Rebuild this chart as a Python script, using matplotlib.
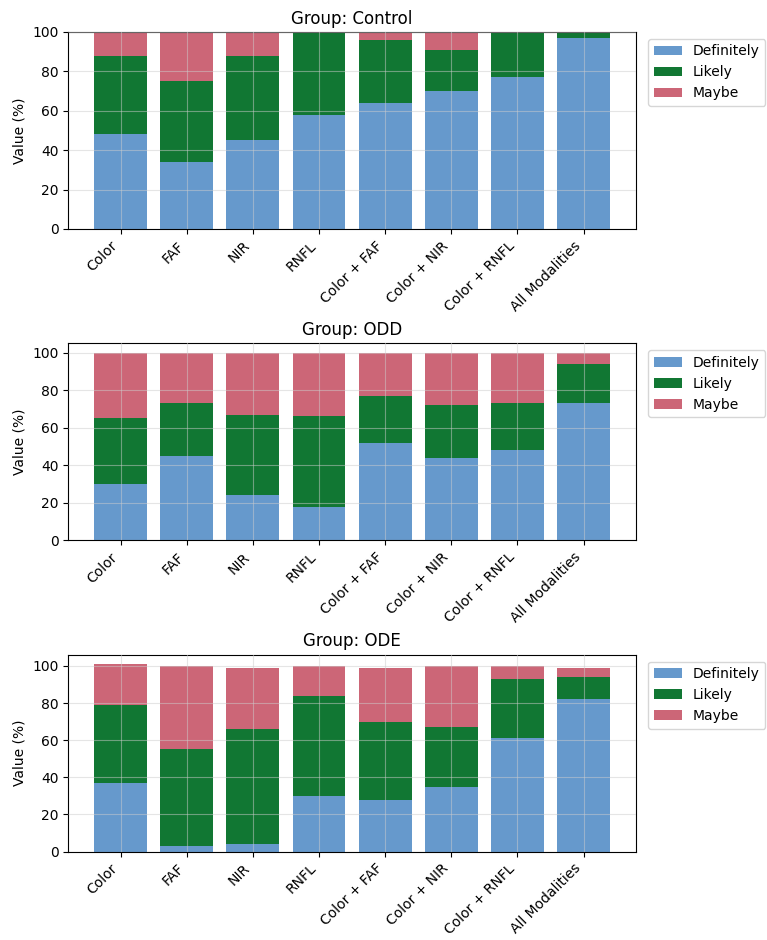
import matplotlib.pyplot as plt
import numpy as np

modalities = ["Color", "FAF", "NIR", "RNFL", "Color + FAF", "Color + NIR",
              "Color + RNFL", "All Modalities"]
groups = ["Control", "ODD", "ODE"]
levels = ["Definitely", "Likely", "Maybe"]

definitely = {
    "Control": [48, 34, 45, 58, 64, 70, 77, 97],
    "ODD": [30, 45, 24, 18, 52, 44, 48, 73],
    "ODE": [37, 3, 4, 30, 28, 35, 61, 82],
}
likely = {
    "Control": [40, 41, 43, 42, 32, 21, 23, 3],
    "ODD": [35, 28, 43, 48, 25, 28, 25, 21],
    "ODE": [42, 52, 62, 54, 42, 32, 32, 12],
}
maybe = {
    "Control": [12, 25, 12, 0, 4, 9, 0, 0],
    "ODD": [35, 27, 33, 34, 23, 28, 27, 6],
    "ODE": [22, 45, 33, 16, 29, 33, 7, 5],
}

colors = ["#6699CC", "#117733", "#CC6677"]

fig, axes = plt.subplots(3, 1, figsize=(7.67, 9.4), dpi=100)
fig.subplots_adjust(left=0.089, right=0.829, top=0.966, bottom=0.094, hspace=0.58)

x = np.arange(len(modalities))
for ax, g in zip(axes, groups):
    d = np.array(definitely[g])
    l = np.array(likely[g])
    m = np.array(maybe[g])
    ax.bar(x, d, 0.8, color=colors[0], label=levels[0])
    ax.bar(x, l, 0.8, bottom=d, color=colors[1], label=levels[1])
    ax.bar(x, m, 0.8, bottom=d + l, color=colors[2], label=levels[2])
    ax.set_title(f"Group: {g}", fontsize=12)
    ax.set_ylabel("Value (%)", fontsize=10)
    ax.set_xticks(x)
    ax.set_xticklabels(modalities, rotation=45, ha="right", fontsize=10)
    # grid sits on top of the bars like in the source figure
    ax.grid(True, color="#cccccc", alpha=0.5, linewidth=0.8)
    ax.set_axisbelow(False)
    ax.legend(loc="upper left", bbox_to_anchor=(1.01, 1.0), fontsize=10)
    if g == "Control":
        ax.set_ylim(0, 100)

plt.savefig("out.png", dpi=100)
